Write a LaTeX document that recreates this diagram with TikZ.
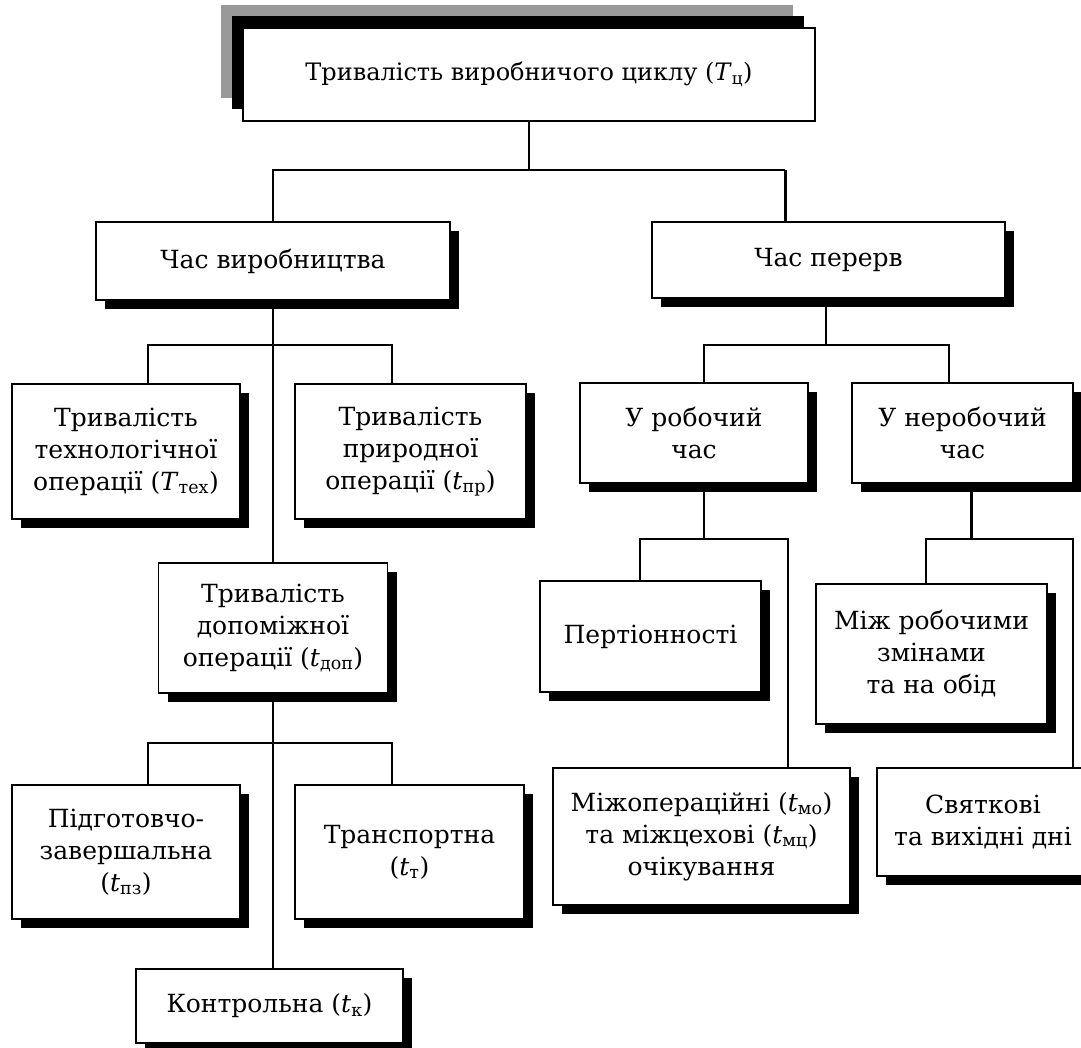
\documentclass[tikz,border=0pt]{standalone}
\usepackage{fontspec}
\setmainfont{DejaVu Serif}
\usepackage{tikz}
\usetikzlibrary{positioning,shadows}

\tikzset{
	box/.style={draw, line width=1.8pt, fill=white, align=center, inner sep=2pt,
		font=\fontsize{25}{32}\selectfont,
		drop shadow={shadow xshift=9pt, shadow yshift=-9pt, fill=black, opacity=1}},
	topbox/.style={draw, line width=1.8pt, fill=white, align=center,
		font=\fontsize{24}{31}\selectfont,
		general shadow={shadow xshift=-22pt, shadow yshift=23pt, fill=black!40},
		general shadow={shadow xshift=-11pt, shadow yshift=12pt, fill=black}},
	link/.style={line width=1.8pt},
	boldlink/.style={line width=3pt}
}

\begin{document}
\begin{tikzpicture}[x=1pt,y=-1pt]
	\useasboundingbox (0,0) rectangle (1081,1047);

	\node[topbox, minimum width=572pt, minimum height=93pt] (cycle) at (529,74.5) {Тривалість виробничого циклу (\textit{T}\textsubscript{ц})};

	\node[box, minimum width=354pt, minimum height=78pt] (prod) at (273,261) {Час виробництва};
	\node[box, minimum width=353pt, minimum height=76pt] (brk) at (828.5,260) {Час перерв};

	\node[box, minimum width=228pt, minimum height=135pt] (tech) at (126,451.5) {Тривалість\\технологічної\\операції (\textit{T}\textsubscript{тех})};
	\node[box, minimum width=231pt, minimum height=135pt] (nat) at (410.5,451.5) {Тривалість\\природної\\операції (\textit{t}\textsubscript{пр})};
	\node[box, minimum width=229pt, minimum height=130pt] (aux) at (273,628) {Тривалість\\допоміжної\\операції (\textit{t}\textsubscript{доп})};
	\node[box, minimum width=228pt, minimum height=134pt] (prep) at (126,852) {Підготовчо-\\завершальна\\(\textit{t}\textsubscript{пз})};
	\node[box, minimum width=229pt, minimum height=134pt] (trans) at (409.5,852) {Транспортна\\(\textit{t}\textsubscript{т})};
	\node[box, minimum width=267pt, minimum height=74pt] (ctrl) at (269.5,1006) {Контрольна (\textit{t}\textsubscript{к})};

	\node[box, minimum width=228pt, minimum height=100pt] (work) at (694,433) {У робочий\\час};
	\node[box, minimum width=221pt, minimum height=100pt] (nonwork) at (962.5,433) {У неробочий\\час};
	\node[box, minimum width=221pt, minimum height=111pt] (pert) at (650.5,636.5) {Пертіонності};
	\node[box, minimum width=231pt, minimum height=140pt] (shift) at (931.5,654) {Між робочими\\змінами\\та на обід};
	\node[box, minimum width=297pt, minimum height=137pt] (inter) at (701.5,836.5) {Міжопераційні (\textit{t}\textsubscript{мо})\\та міжцехові (\textit{t}\textsubscript{мц})\\очікування};
	\node[box, minimum width=212pt, minimum height=108pt] (hol) at (983,822) {Святкові\\та вихідні дні};

	\coordinate (j0) at (529,170);
	\coordinate (j1) at (273,345);
	\coordinate (j2) at (273,743);
	\coordinate (j3) at (826,345);
	\coordinate (j4) at (704,539);
	\coordinate (j5) at (971,539);

	\draw[link] (cycle.south) -- (j0);
	\draw[link] (prod.north) |- (j0) -- (j0 -| 785,0);
	\draw[boldlink] (j0 -| 785,0) -- ([xshift=-43.5pt]brk.north);

	\draw[link] (prod.south) -- (aux.north);
	\draw[link] ([xshift=22pt]tech.north) |- (j1) -| ([xshift=-18.5pt]nat.north);

	\draw[link] (aux.south) -- (aux.south |- ctrl.north);
	\draw[link] ([xshift=22pt]prep.north) |- (j2) -| ([xshift=-17.5pt]trans.north);

	\draw[link] ([xshift=-2.5pt]brk.south) -- (j3);
	\draw[link] ([xshift=10pt]work.north) |- (j3) -| ([xshift=-13.5pt]nonwork.north);

	\draw[link] ([xshift=10pt]work.south) -- (j4);
	\draw[link] ([xshift=-10.5pt]pert.north) |- (j4) -| ([xshift=86.5pt]inter.north);

	\draw[boldlink] ([xshift=8.5pt]nonwork.south) -- (j5);
	\draw[link] ([xshift=-5.5pt]shift.north) |- (j5) -| ([xshift=90pt]hol.north);
\end{tikzpicture}
\end{document}
